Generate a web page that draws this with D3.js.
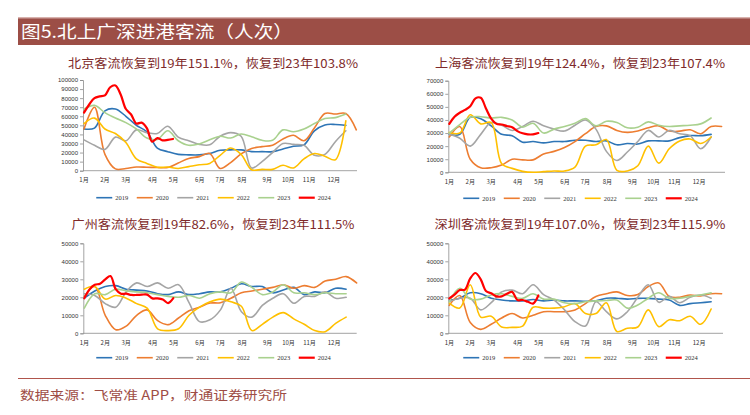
<!DOCTYPE html>
<html><head><meta charset="utf-8">
<script src="https://cdn.jsdelivr.net/npm/d3@7"></script>
<style>body{margin:0;background:#fff}svg{display:block}</style>
</head><body>
<svg id="c" width="750" height="415"></svg>
<script>
// ---------- data ----------
const headerTitle = "图5.北上广深进港客流（人次）";
const sourceText = "数据来源：飞常准 APP，财通证券研究所";
const years = ["2019","2020","2021","2022","2023","2024"];
const monthLabels = ["1月","2月","3月","4月","5月","6月","7月","8月","9月","10月","11月","12月"];
const monthWeeks = [0,4,8,13.1,17.1,22.1,26,30.2,35,39,43,47.7];
const panelTitles = [
  "北京客流恢复到19年151.1%，恢复到23年103.8%",
  "上海客流恢复到19年124.4%，恢复到23年107.4%",
  "广州客流恢复到19年82.6%，恢复到23年111.5%",
  "深圳客流恢复到19年107.0%，恢复到23年115.9%"
];
const yMaxes = [100000, 70000, 50000, 50000];
// 2019-2023 sampled every 2 weeks, 2024 weekly
const bj2019 = [46000,47000,66000,68000,60000,50000,43000,25000,21000,18000,17500,17500,19000,22500,23000,23000,21000,21000,21000,24000,27000,28500,44000,50500,51000,50000];
const bj2020 = [46000,70000,18000,2000,2500,4000,3800,3500,3500,8500,13500,15500,19000,2500,9000,18500,24500,26500,28000,35000,39000,33000,47000,63000,62500,63000,45000];
const bj2021 = [34000,28000,23500,37000,33000,45000,42000,41000,49000,37000,33000,29000,28500,38000,42000,38000,3000,10000,20000,30000,29000,28000,17000,18000,32000,44000];
const bj2022 = [52000,58000,46000,41000,31000,13000,8000,3800,4000,2500,4500,6500,8000,17000,25000,18000,1000,1500,1500,6000,3000,13000,19000,16000,12000,55000];
const bj2023 = [68000,72000,64000,58000,53000,46000,36000,34500,44000,33000,28000,29500,34000,38000,36000,40500,37500,33500,33500,45000,43000,46000,52000,57500,58500,62500];
const bj2024 = [64000,73000,80000,82000,83000,92000,94000,84000,68000,62000,52000,53000,47000,32000,36000,33500,34000,35000];

const sh2019 = [29000,29000,42000,41000,35500,29000,28000,23000,23500,22500,23500,23500,24500,24500,23500,24000,21000,22000,21600,24000,24000,24000,26500,28000,28000,29000];
const sh2020 = [27000,35000,10000,3500,3500,5500,10000,9500,9500,14000,16000,19000,23500,29500,35000,35500,32000,30500,31500,34000,35500,31500,31500,32500,29500,35000,35000];
const sh2021 = [29000,26000,20000,29000,38000,36000,32000,35000,39000,35500,33000,31500,36000,40000,33000,16000,9000,15500,23500,32000,27000,32000,29500,28000,18000,27000];
const sh2022 = [30500,30000,44000,37000,38000,6500,3000,700,0,500,1000,1000,4000,20000,21000,25000,1500,1000,5000,20000,7000,18000,24000,25500,22000,27000];
const sh2023 = [30000,36500,42000,42500,41500,42000,40000,34500,37500,30000,33000,35000,37500,41000,35500,39000,38000,34000,34500,38500,36000,35000,35500,36000,37000,41500];
const sh2024 = [37000,42500,45500,47700,50500,56500,57000,48800,41000,37000,36500,35400,34500,31500,29800,29000,29000,30000];

const gz2019 = [19500,23500,26000,26500,24500,24000,23500,22000,21500,23000,21500,22000,23000,23000,25000,27500,26000,26000,22500,24000,25500,21500,23000,22500,25000,24500];
const gz2020 = [20500,26000,10000,2000,4000,10000,13000,7000,4800,8500,12500,14500,16800,17000,19500,22500,23500,24500,25500,27000,25000,26500,25500,29000,30000,31500,28000];
const gz2021 = [22000,21000,16500,14500,23000,28000,26000,28000,25000,27000,17000,6500,7500,13000,25000,12000,9000,15500,19500,22000,16700,20500,20500,23000,19500,20000];
const gz2022 = [24500,26000,19000,21000,19500,16500,14000,2500,1500,2500,10000,14500,17500,19000,17500,15000,1500,5000,9000,11500,8000,5000,1500,900,5500,9000];
const gz2023 = [14000,22000,21500,24500,23500,23000,22500,21500,20500,20000,21000,19500,22000,23000,22500,28500,25500,21500,23000,27000,22500,22500,21500,22500,22000,22000];
const gz2024 = [19400,24400,27000,27500,30000,31800,24500,22000,22000,21300,21300,21500,21500,19400,19400,18800,16800,19500];

const sz2019 = [18500,19500,22500,22000,19500,18500,18000,18000,18800,18000,18500,18000,18000,17800,18000,19500,19500,19000,19400,19400,19000,18500,15500,16500,17000,17500];
const sz2020 = [15500,21000,6000,2200,5000,8500,11000,8500,10000,12000,12000,12000,13000,16500,20500,22000,23000,21000,21500,26000,28000,20500,20000,21300,20700,22000,22000];
const sz2021 = [17600,19500,19500,13000,17000,23000,24000,22000,27000,21500,18500,13000,6500,4000,17500,12000,8000,12000,20000,27000,17200,20500,17000,20000,21300,19500];
const sz2022 = [16700,14000,27000,9000,9500,3500,3300,4000,14500,14000,14000,14800,16500,11000,11000,17000,1000,2800,3500,13000,3700,7500,7000,9500,5000,13500];
const sz2023 = [17600,25000,19000,19000,21300,22000,20500,19400,22000,19000,19000,17000,16500,17500,18000,18200,18500,14000,15700,19500,22500,19400,19500,20500,21300,22500];
const sz2024 = [19400,21500,24000,24300,30500,33500,30000,23500,22200,20500,20500,22000,23000,18500,18500,17500,16500,21000];

const citySeries = [
  [bj2019,bj2020,bj2021,bj2022,bj2023,bj2024],
  [sh2019,sh2020,sh2021,sh2022,sh2023,sh2024],
  [gz2019,gz2020,gz2021,gz2022,gz2023,gz2024],
  [sz2019,sz2020,sz2021,sz2022,sz2023,sz2024]
];
const seriesStep = [2,2,2,2,2,1]; // weeks between samples

// ---------- style / layout ----------
const colors = ["#2E75B6","#ED7D31","#A5A5A5","#FFC000","#A9D18E","#FF0000"];
const widths = [1.6,1.6,1.6,1.6,1.6,2.2];
const panels = [
  {cx:213, titleY:68, titleLen:290, x0:83,   xEnd:357,   y0:170.7, yTop:80,    legendY:197.7, monthY:182},
  {cx:580, titleY:68, titleLen:290, x0:448.3,xEnd:725,   y0:172.3, yTop:80.7,  legendY:198.3, monthY:183.5},
  {cx:213, titleY:229,titleLen:283, x0:83.3, xEnd:356.7, y0:333.3, yTop:243.3, legendY:357.7, monthY:345},
  {cx:580, titleY:229,titleLen:291, x0:448.3,xEnd:723,   y0:333.3, yTop:243.3, legendY:357.7, monthY:345}
];
const cjk = "'Noto Sans CJK SC','Noto Sans',sans-serif";

const svg = d3.select("#c");

// header
svg.append("rect").attr("x",18).attr("y",17).attr("width",732).attr("height",1.3).attr("fill","#D8B2AD");
svg.append("rect").attr("x",18).attr("y",18.3).attr("width",732).attr("height",26.7).attr("fill","#9C4E46");
svg.append("text").attr("x",21).attr("y",38).attr("fill","#fff")
  .style("font-family",cjk).style("font-size","17px")
  .attr("textLength",272).attr("lengthAdjust","spacingAndGlyphs").text(headerTitle);

// footer
svg.append("line").attr("x1",18).attr("x2",750).attr("y1",378.5).attr("y2",378.5)
  .attr("stroke","#B0554C").attr("stroke-width",1.2);
svg.append("text").attr("x",20).attr("y",400).attr("fill","#9E4D45")
  .style("font-family",cjk).style("font-size","12.5px")
  .attr("textLength",267).attr("lengthAdjust","spacingAndGlyphs").text(sourceText);

panels.forEach((p, k) => {
  const g = svg.append("g");
  const x = d3.scaleLinear().domain([0,52]).range([p.x0+1, p.x0+273.3]);
  const y = d3.scaleLinear().domain([0,yMaxes[k]]).range([p.y0, p.yTop]);

  // title
  g.append("text").attr("x",p.cx).attr("y",p.titleY).attr("text-anchor","middle")
    .attr("fill","#7E2A2A").style("font-family",cjk).style("font-size","12px")
    .attr("textLength",p.titleLen).attr("lengthAdjust","spacingAndGlyphs")
    .text(panelTitles[k]);

  // y axis
  const yAxis = d3.axisLeft(y).tickValues(d3.range(0, yMaxes[k]+1, 10000))
    .tickSize(3).tickPadding(2).tickFormat(d3.format("d"));
  const ya = g.append("g").attr("transform",`translate(${p.x0},0)`).call(yAxis);
  ya.select(".domain").attr("stroke","#8C8C8C").attr("stroke-width",0.8);
  ya.selectAll(".tick line").attr("stroke","#8C8C8C").attr("stroke-width",0.8);
  ya.selectAll("text").style("font-family","'Liberation Sans',Arial,sans-serif")
    .style("font-size","6px").attr("fill","#333");

  // x axis line
  g.append("line").attr("x1",p.x0).attr("x2",p.xEnd).attr("y1",p.y0).attr("y2",p.y0)
    .attr("stroke","#8C8C8C").attr("stroke-width",0.8);

  // month labels
  g.selectAll(".m").data(monthLabels).join("text")
    .attr("x",(d,i)=>x(monthWeeks[i])).attr("y",p.monthY).attr("text-anchor","middle")
    .style("font-family",cjk).style("font-size","6px").attr("fill","#333").text(d=>d);

  // lines
  citySeries[k].forEach((vals, s) => {
    const line = d3.line().x((d,i)=>x(i*seriesStep[s])).y(d=>y(d))
      .curve(d3.curveCatmullRom.alpha(0.5));
    g.append("path").attr("d",line(vals)).attr("fill","none")
      .attr("stroke",colors[s]).attr("stroke-width",widths[s])
      .attr("stroke-linejoin","round").attr("stroke-linecap","round");
  });

  // legend
  const spacing = 40.5, lw = 16;
  const totalW = spacing*5 + lw + 19;
  const lx0 = p.cx - totalW/2 + 2;
  years.forEach((yr, s) => {
    const lx = lx0 + s*spacing;
    g.append("line").attr("x1",lx).attr("x2",lx+lw).attr("y1",p.legendY).attr("y2",p.legendY)
      .attr("stroke",colors[s]).attr("stroke-width",widths[s]);
    g.append("text").attr("x",lx+lw+3).attr("y",p.legendY+2.3)
      .style("font-family","'Liberation Serif','DejaVu Serif',serif").style("font-size","6.5px")
      .attr("fill","#333").text(yr);
  });
});
</script>
</body></html>
